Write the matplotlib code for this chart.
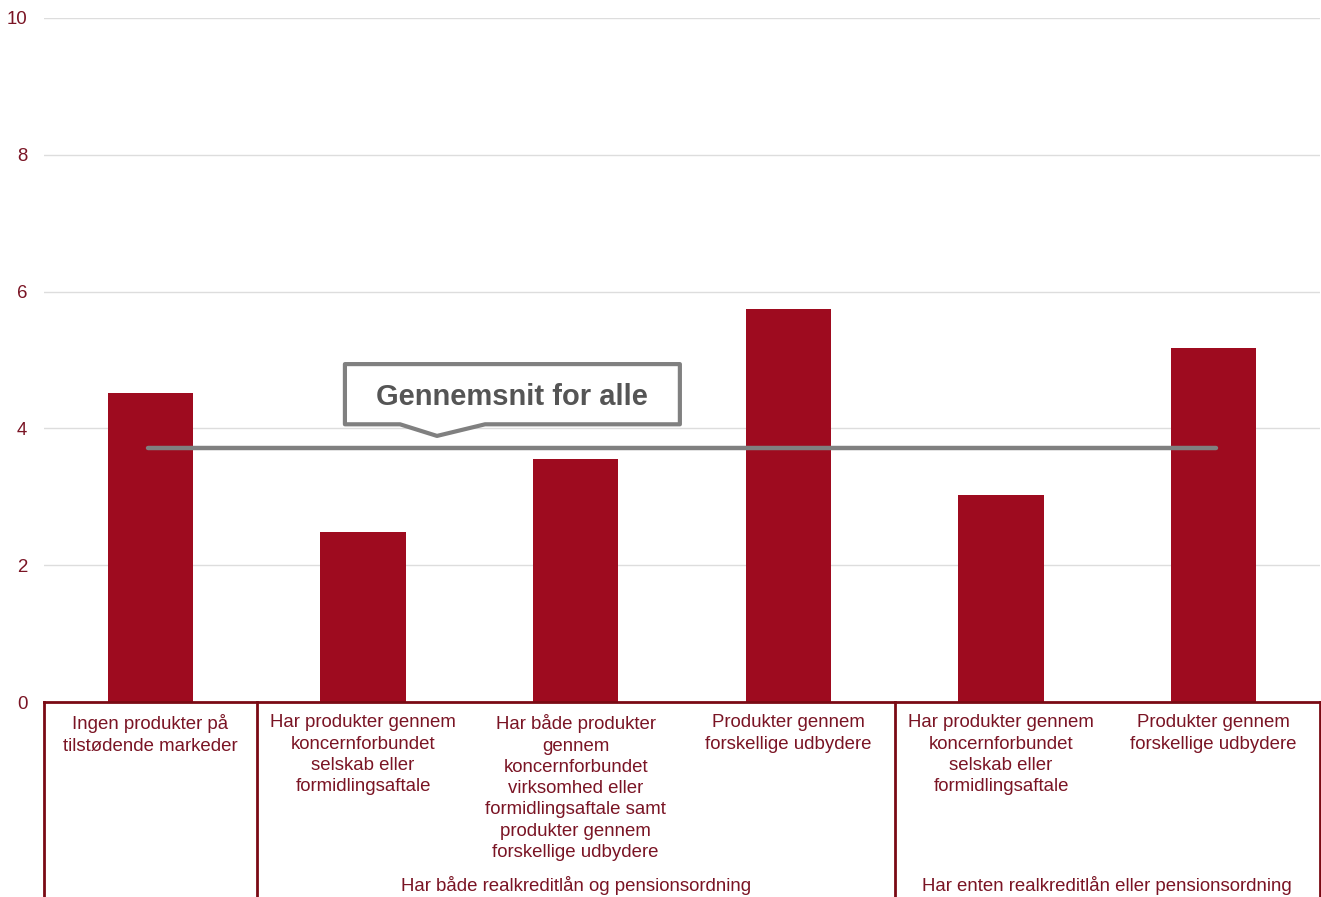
import matplotlib
matplotlib.use("Agg")
import matplotlib.pyplot as plt
from matplotlib.patches import Polygon

plt.rcParams["font.family"] = ["Liberation Sans", "DejaVu Sans"]

categories = [
    "Ingen produkter på\ntilstødende markeder",
    "Har produkter gennem\nkoncernforbundet\nselskab eller\nformidlingsaftale",
    "Har både produkter\ngennem\nkoncernforbundet\nvirksomhed eller\nformidlingsaftale samt\nprodukter gennem\nforskellige udbydere",
    "Produkter gennem\nforskellige udbydere",
    "Har produkter gennem\nkoncernforbundet\nselskab eller\nformidlingsaftale",
    "Produkter gennem\nforskellige udbydere",
]
values = [4.52, 2.49, 3.55, 5.74, 3.03, 5.18]
average = 3.71
average_label = "Gennemsnit for alle"
groups = [
    ("", 0, 0),
    ("Har både realkreditlån og pensionsordning", 1, 3),
    ("Har enten realkreditlån eller pensionsordning", 4, 5),
]
yticks = [0, 2, 4, 6, 8, 10]

BAR = "#9e0b1f"
TEXT = "#7a1424"
FRAME = "#7a0a14"
GREY = "#808080"
FS = 13.4

W, H = 1321, 897
fig = plt.figure(figsize=(W / 100, H / 100), dpi=100)
ax = fig.add_axes([44 / W, (H - 702) / H, 1276 / W, 684 / H])

x = list(range(len(values)))
ax.bar(x, values, width=0.4, color=BAR, zorder=3)

ax.set_xlim(-0.5, len(values) - 0.5)
ax.set_ylim(0, 10)
ax.set_yticks(yticks)
ax.set_yticklabels([str(t) for t in yticks], fontsize=FS, color=TEXT)
ax.tick_params(axis="y", length=0, pad=12)
ax.set_xticks([])
for s in ax.spines.values():
    s.set_visible(False)
for t in yticks[1:]:
    ax.axhline(t, color="#dddddd", lw=1, zorder=1)

# category table below the plot
ybot = -2.9
ax.plot([-0.5, len(values) - 0.5], [0, 0], color=FRAME, lw=2, clip_on=False, zorder=4)
edges = [-0.5, 0.5, 3.5, len(values) - 0.5]
for e in edges:
    ax.plot([e, e], [0, ybot], color=FRAME, lw=2, clip_on=False, zorder=4)

for xi, lab in zip(x, categories):
    ax.text(xi, -0.18, lab, ha="center", va="top", fontsize=FS, color=TEXT,
            linespacing=1.33, clip_on=False)

for name, a, b in groups:
    if name:
        ax.text((a + b) / 2, -2.69, name, ha="center", va="center",
                fontsize=FS, color=TEXT, clip_on=False)

# average line with callout
ax.plot([x[0] - 0.01, x[-1] + 0.01], [average, average], color=GREY, lw=3.2,
        solid_capstyle="round", zorder=5)

bx0, bx1 = 0.915, 2.49
by0, by1 = average + 0.35, average + 1.23
px, pl, pr = 1.348, 1.174, 1.574
tip = average + 0.18
callout = Polygon(
    [(bx0, by0), (pl, by0), (px, tip), (pr, by0), (bx1, by0), (bx1, by1), (bx0, by1)],
    closed=True, facecolor="white", edgecolor=GREY, lw=3, joinstyle="round", zorder=6,
)
ax.add_patch(callout)
ax.text((bx0 + bx1) / 2, (by0 + by1) / 2 - 0.04, average_label, ha="center", va="center",
        fontsize=21, fontweight="bold", color="#555555", zorder=7)

fig.savefig("out.png", dpi=100)
